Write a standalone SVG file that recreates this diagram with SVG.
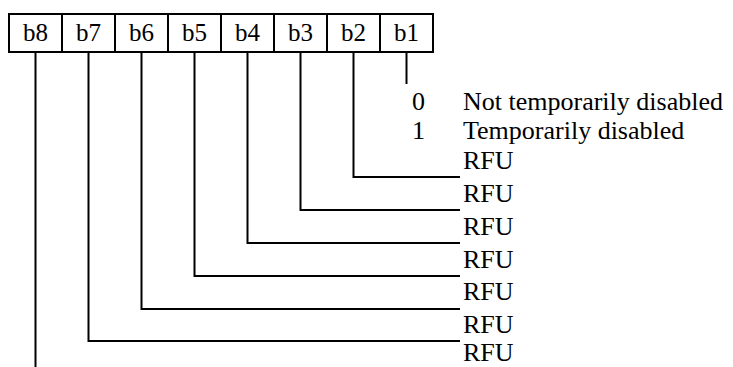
<svg xmlns="http://www.w3.org/2000/svg" width="733" height="367" viewBox="0 0 733 367">
<style>
  .box { fill: #fff; stroke: #000; stroke-width: 2; }
  .ln { fill: none; stroke: #000; stroke-width: 2; }
</style>
<rect width="733" height="367" fill="#fff"/>
<g font-family="Liberation Serif, Times New Roman, DejaVu Serif, serif" font-size="25" fill="#000">
<g id="b8"><rect class="box" x="9" y="14" width="53" height="38"/><text x="35.5" y="41" text-anchor="middle">b8</text></g>
<g id="b7"><rect class="box" x="62" y="14" width="53" height="38"/><text x="88.5" y="41" text-anchor="middle">b7</text></g>
<g id="b6"><rect class="box" x="115" y="14" width="53" height="38"/><text x="141.5" y="41" text-anchor="middle">b6</text></g>
<g id="b5"><rect class="box" x="168" y="14" width="53" height="38"/><text x="194.5" y="41" text-anchor="middle">b5</text></g>
<g id="b4"><rect class="box" x="221" y="14" width="53" height="38"/><text x="247.5" y="41" text-anchor="middle">b4</text></g>
<g id="b3"><rect class="box" x="274" y="14" width="53" height="38"/><text x="300.5" y="41" text-anchor="middle">b3</text></g>
<g id="b2"><rect class="box" x="327" y="14" width="53" height="38"/><text x="353.5" y="41" text-anchor="middle">b2</text></g>
<g id="b1"><rect class="box" x="380" y="14" width="53" height="38"/><text x="406.5" y="41" text-anchor="middle">b1</text></g>
<g id="connectors">
  <path class="ln" d="M406.5 53 V84"/>
  <path class="ln" d="M353.5 53 V177 H460"/>
  <path class="ln" d="M300.5 53 V210 H460"/>
  <path class="ln" d="M247.5 53 V243 H460"/>
  <path class="ln" d="M194.5 53 V276 H460"/>
  <path class="ln" d="M141.5 53 V309 H460"/>
  <path class="ln" d="M88.5 53 V341 H460"/>
  <path class="ln" d="M35.5 53 V367"/>
</g>
<g id="labels" font-size="26">
  <text x="412" y="110">0</text>
  <text x="463" y="110">Not temporarily disabled</text>
  <text x="412" y="139">1</text>
  <text x="463" y="139">Temporarily disabled</text>
  <text x="463" y="169">RFU</text>
  <text x="463" y="202">RFU</text>
  <text x="463" y="235">RFU</text>
  <text x="463" y="268">RFU</text>
  <text x="463" y="300">RFU</text>
  <text x="463" y="333">RFU</text>
  <text x="463" y="361">RFU</text>
</g>
</g>
</svg>
